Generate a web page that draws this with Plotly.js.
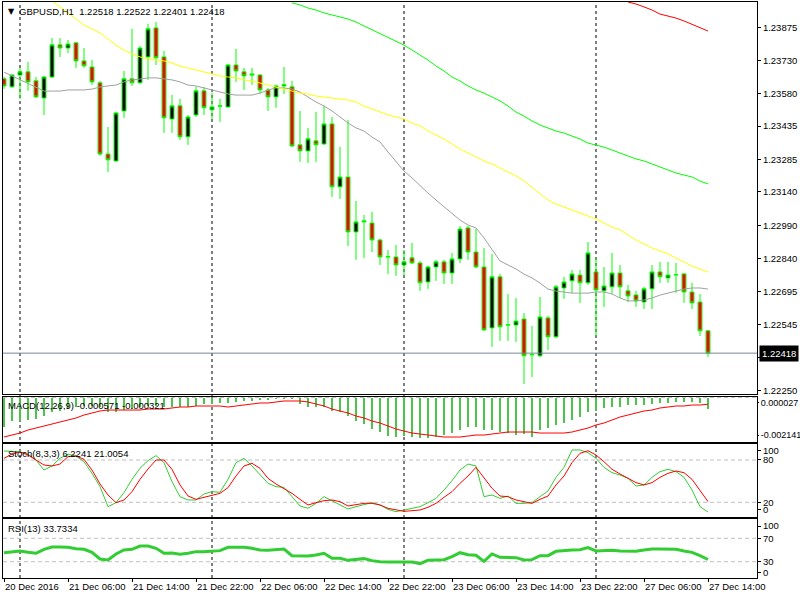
<!DOCTYPE html>
<html><head><meta charset="utf-8">
<script src="https://cdn.plot.ly/plotly-3.0.1.min.js"></script>
<style>html,body{margin:0;padding:0;background:#fff}#chart{width:800px;height:600px}</style>
</head><body><div id="chart"></div>
<script>
// ---------- data ----------
const symbol = 'GBPUSD,H1';
const timeLabels = ['20 Dec 2016','21 Dec 06:00','21 Dec 14:00','21 Dec 22:00','22 Dec 06:00','22 Dec 14:00','22 Dec 22:00','23 Dec 06:00','23 Dec 14:00','23 Dec 22:00','27 Dec 06:00','27 Dec 14:00'];
const timeTickIdx = [0,8,16,24,32,40,48,56,64,72,80,88];
const daySepIdx = [2,26,50,74];

const openP = [1.23647,1.23611,1.23664,1.23678,1.23638,1.23561,1.23655,1.23799,1.23785,1.23808,
1.23727,1.23700,1.23629,1.23310,1.23279,1.23503,1.23647,1.23629,1.23745,1.23875,
1.23745,1.23467,1.23526,1.23387,1.23485,1.23593,1.23508,1.23524,1.23521,1.23709,
1.23678,1.23669,1.23664,1.23597,1.23566,1.23615,1.23611,1.23351,1.23324,1.23369,
1.23355,1.23445,1.23163,1.23207,1.22961,1.23006,1.23001,1.22925,1.22851,1.22849,
1.22813,1.22845,1.22822,1.22737,1.22804,1.22827,1.22777,1.22840,1.22979,1.22871,
1.22804,1.22531,1.22760,1.22546,1.22544,1.22571,1.22410,1.22406,1.22576,1.22491,
1.22710,1.22742,1.22768,1.22733,1.22782,1.22697,1.22715,1.22777,1.22697,1.22679,
1.22647,1.22706,1.22782,1.22755,1.22768,1.22773,1.22692,1.22647,1.22518];
const highP = [1.23655,1.23669,1.23696,1.23723,1.23655,1.23660,1.23830,1.23830,1.23821,1.23812,
1.23785,1.23732,1.23638,1.23431,1.23499,1.23682,1.23871,1.23794,1.23893,1.23902,
1.23772,1.23575,1.23557,1.23485,1.23611,1.23611,1.23584,1.23557,1.23714,1.23781,
1.23696,1.23696,1.23669,1.23606,1.23620,1.23700,1.23638,1.23503,1.23427,1.23499,
1.23526,1.23476,1.23342,1.23463,1.23100,1.23037,1.23051,1.22930,1.22880,1.22903,
1.22880,1.22912,1.22831,1.22809,1.22836,1.22836,1.22867,1.22988,1.22988,1.22974,
1.22889,1.22862,1.22773,1.22683,1.22665,1.22598,1.22540,1.22670,1.22585,1.22724,
1.22760,1.22791,1.22791,1.22916,1.22845,1.22804,1.22867,1.22813,1.22724,1.22697,
1.22715,1.22813,1.22827,1.22827,1.22822,1.22777,1.22733,1.22683,1.22522];
const lowP = [1.23602,1.23606,1.23557,1.23593,1.23561,1.23485,1.23651,1.23745,1.23763,1.23696,
1.23696,1.23620,1.23302,1.23230,1.23275,1.23472,1.23615,1.23624,1.23642,1.23709,
1.23405,1.23405,1.23373,1.23351,1.23476,1.23485,1.23467,1.23454,1.23517,1.23633,
1.23597,1.23620,1.23579,1.23503,1.23517,1.23579,1.23342,1.23275,1.23270,1.23275,
1.23351,1.23118,1.23109,1.22898,1.22836,1.22845,1.22871,1.22813,1.22773,1.22764,
1.22768,1.22818,1.22697,1.22706,1.22742,1.22728,1.22728,1.22822,1.22836,1.22800,
1.22518,1.22446,1.22473,1.22473,1.22468,1.22280,1.22311,1.22401,1.22432,1.22486,
1.22661,1.22688,1.22643,1.22724,1.22495,1.22625,1.22683,1.22665,1.22647,1.22625,
1.22616,1.22616,1.22733,1.22733,1.22688,1.22643,1.22616,1.22495,1.22401];
const closeP = [1.23615,1.23664,1.23678,1.23633,1.23566,1.23655,1.23799,1.23785,1.23803,1.23727,
1.23705,1.23633,1.23310,1.23284,1.23494,1.23647,1.23629,1.23785,1.23871,1.23741,
1.23472,1.23526,1.23387,1.23476,1.23593,1.23517,1.23521,1.23526,1.23709,1.23682,
1.23660,1.23664,1.23597,1.23566,1.23615,1.23620,1.23346,1.23324,1.23378,1.23351,
1.23445,1.23163,1.23207,1.22961,1.23006,1.23010,1.22925,1.22849,1.22849,1.22813,
1.22827,1.22822,1.22733,1.22804,1.22827,1.22777,1.22840,1.22974,1.22871,1.22804,
1.22522,1.22760,1.22536,1.22544,1.22562,1.22406,1.22412,1.22580,1.22491,1.22715,
1.22737,1.22773,1.22733,1.22867,1.22701,1.22719,1.22777,1.22715,1.22674,1.22652,
1.22706,1.22782,1.22760,1.22768,1.22770,1.22692,1.22643,1.22518,1.22418];

const grayStart = 0;
const grayMA = [1.23677,1.23660,1.23642,1.23624,1.23606,1.23592,1.23592,1.23592,1.23597,1.23597,
1.23597,1.23601,1.23610,1.23615,1.23619,1.23633,1.23642,1.23646,1.23651,1.23651,
1.23646,1.23642,1.23633,1.23619,1.23615,1.23606,1.23597,1.23588,1.23579,1.23574,
1.23574,1.23574,1.23583,1.23597,1.23606,1.23606,1.23601,1.23588,1.23565,1.23543,
1.23525,1.23503,1.23476,1.23449,1.23427,1.23413,1.23386,1.23364,1.23319,1.23274,
1.23234,1.23203,1.23167,1.23135,1.23104,1.23073,1.23041,1.23014,1.22992,1.22979,
1.22934,1.22880,1.22831,1.22813,1.22795,1.22772,1.22755,1.22732,1.22705,1.22696,
1.22692,1.22687,1.22687,1.22687,1.22692,1.22692,1.22683,1.22665,1.22652,1.22652,
1.22656,1.22665,1.22678,1.22687,1.22696,1.22705,1.22710,1.22710,1.22705];
const yellowStart = 6;
const yellowMA = [1.23996,1.23969,1.23942,1.23915,1.23888,1.23870,1.23852,1.23825,1.23798,1.23776,
1.23758,1.23745,1.23736,1.23731,1.23727,1.23718,1.23704,1.23695,1.23686,1.23677,
1.23668,1.23660,1.23655,1.23651,1.23642,1.23637,1.23628,1.23619,1.23610,1.23601,
1.23592,1.23583,1.23579,1.23570,1.23565,1.23561,1.23556,1.23552,1.23543,1.23525,
1.23512,1.23498,1.23485,1.23476,1.23467,1.23449,1.23436,1.23413,1.23395,1.23377,
1.23355,1.23332,1.23315,1.23297,1.23279,1.23265,1.23247,1.23229,1.23212,1.23189,
1.23162,1.23135,1.23104,1.23086,1.23073,1.23059,1.23046,1.23032,1.23019,1.23001,
1.22983,1.22970,1.22947,1.22925,1.22907,1.22889,1.22876,1.22862,1.22844,1.22826,
1.22808,1.22795,1.22781];
const greenStart = 36;
const greenMA = [1.23987,1.23978,1.23964,1.23955,1.23942,1.23933,1.23924,1.23915,1.23901,1.23884,
1.23866,1.23852,1.23834,1.23816,1.23798,1.23776,1.23754,1.23731,1.23704,1.23682,
1.23655,1.23637,1.23615,1.23597,1.23583,1.23565,1.23548,1.23525,1.23498,1.23480,
1.23458,1.23440,1.23427,1.23413,1.23404,1.23391,1.23377,1.23359,1.23350,1.23341,
1.23328,1.23315,1.23301,1.23288,1.23279,1.23265,1.23252,1.23238,1.23225,1.23216,
1.23207,1.23189,1.23176];
const redStart = 78;
const redMA = [1.23991,1.23982,1.23969,1.23955,1.23937,1.23928,1.23919,1.23906,1.23892,1.23875,1.23861];

const bidPrice = 1.22418;
const priceTicks = [1.23875,1.23730,1.23580,1.23435,1.23285,1.23140,1.22990,1.22840,1.22695,1.22545,1.22400,1.22250];

const macdHist = [-0.001419,-0.001130,-0.001130,-0.001082,-0.001033,-0.000889,-0.000696,-0.000648,-0.000552,-0.000455,
-0.000407,-0.000407,-0.000455,-0.000696,-0.000696,-0.000600,-0.000552,-0.000455,-0.000407,-0.000407,
-0.000455,-0.000455,-0.000455,-0.000455,-0.000407,-0.000310,-0.000310,-0.000262,-0.000262,-0.000214,
-0.000166,-0.000166,-0.000118,-0.000118,-0.000069,-0.000069,-0.000069,-0.000310,-0.000455,-0.000455,
-0.000455,-0.000648,-0.000696,-0.000889,-0.001130,-0.001275,-0.001516,-0.001660,-0.001853,-0.001901,
-0.001853,-0.001901,-0.001950,-0.001950,-0.001901,-0.001805,-0.001709,-0.001564,-0.001419,-0.001419,
-0.001564,-0.001564,-0.001660,-0.001709,-0.001805,-0.001757,-0.001901,-0.001564,-0.001467,-0.001323,
-0.001226,-0.001082,-0.000937,-0.000696,-0.000648,-0.000503,-0.000455,-0.000455,-0.000359,-0.000359,
-0.000359,-0.000310,-0.000262,-0.000262,-0.000214,-0.000214,-0.000214,-0.000262,-0.000571];
const macdSignal = [-0.001901,-0.001805,-0.001709,-0.001564,-0.001467,-0.001371,-0.001275,-0.001178,-0.001082,-0.000985,
-0.000841,-0.000744,-0.000648,-0.000600,-0.000600,-0.000600,-0.000600,-0.000600,-0.000552,-0.000552,
-0.000552,-0.000503,-0.000455,-0.000455,-0.000407,-0.000407,-0.000407,-0.000407,-0.000455,-0.000407,
-0.000359,-0.000310,-0.000262,-0.000262,-0.000214,-0.000166,-0.000166,-0.000166,-0.000214,-0.000310,
-0.000407,-0.000552,-0.000648,-0.000744,-0.000889,-0.000985,-0.001130,-0.001226,-0.001371,-0.001516,
-0.001612,-0.001709,-0.001757,-0.001805,-0.001853,-0.001901,-0.001901,-0.001901,-0.001853,-0.001805,
-0.001805,-0.001757,-0.001709,-0.001660,-0.001660,-0.001660,-0.001660,-0.001709,-0.001709,-0.001709,
-0.001709,-0.001660,-0.001564,-0.001467,-0.001323,-0.001226,-0.001082,-0.000937,-0.000841,-0.000744,
-0.000648,-0.000600,-0.000503,-0.000455,-0.000407,-0.000407,-0.000359,-0.000359,-0.000321];
const macdTickVals = [-0.000262,-0.001805];
const macdTickText = ['0.000027','-0.002141'];

const stochK = [92.8,92.3,91.8,88.0,80.0,65.8,71.5,82.4,88.0,85.7,
77.6,61.1,42.2,13.8,19.5,33.7,52.6,68.2,79.1,86.2,
76.2,49.3,28.0,23.3,23.3,31.8,35.1,34.2,52.6,76.2,
82.4,71.5,58.7,46.9,42.2,41.2,28.0,14.8,11.5,18.5,
28.0,22.3,17.1,10.5,13.8,16.2,19.5,16.2,10.0,6.7,
9.1,10.5,13.8,19.5,25.6,37.5,50.7,65.8,74.3,71.5,
28.0,30.4,25.6,28.9,18.5,18.5,19.5,28.0,36.0,55.4,
69.6,94.2,94.2,90.4,82.4,69.6,62.0,58.7,54.0,43.1,
44.6,55.4,63.5,66.8,63.5,55.4,37.5,13.8,6.2241];
const stochD = [82.4,88.5,91.4,87.1,80.0,72.9,71.5,74.3,84.7,85.7,
81.0,65.8,46.0,30.4,19.5,23.3,35.1,52.6,67.2,80.0,
80.0,66.8,44.6,29.0,24.2,27.1,30.4,32.7,40.8,57.3,
71.5,75.3,68.2,54.0,46.0,39.8,32.7,24.2,16.2,19.5,
22.3,23.3,20.9,14.8,16.2,18.5,18.5,16.2,11.5,9.1,
7.2,8.1,9.1,12.9,18.5,27.1,35.1,46.9,57.3,69.6,
55.4,39.8,28.9,28.0,23.3,20.9,18.5,24.2,28.9,44.6,
57.3,76.2,89.5,93.2,87.1,77.6,66.8,60.2,54.0,47.9,
44.6,47.9,55.4,61.1,64.4,62.0,52.6,37.5,21.0054];
const stochLevels = [80,20];
const stochTickVals = [92.8,80,20,9.1];
const stochTickText = ['100','80','20','0'];

const rsi = [45.4,47.2,48.3,46.0,44.3,51.1,55.1,55.1,54.6,52.3,
51.1,46.0,34.6,32.9,43.2,50.0,51.1,56.8,56.8,52.8,
44.3,44.9,42.6,44.3,47.2,47.2,47.7,48.9,54.6,54.6,
54.6,52.8,50.0,49.4,50.6,51.7,40.3,40.3,39.7,41.5,
44.3,35.8,35.8,32.3,34.0,35.2,31.8,30.0,29.5,28.9,
29.5,29.5,26.6,32.3,32.9,33.5,38.6,45.4,42.0,40.9,
30.6,43.2,37.5,36.9,36.9,32.9,33.5,40.3,40.3,47.7,
49.4,50.0,50.6,54.0,48.3,49.4,49.4,48.3,47.7,47.7,
50.0,51.7,51.7,51.7,51.1,48.3,46.0,40.3,33.7334];
const rsiLevels = [70,30];
const rsiTickVals = [91,70,30,11.2];
const rsiTickText = ['100','70','30','0'];

// ---------- chart ----------
const FONT = '"Liberation Sans", Arial, sans-serif';
const TICK = {family:FONT, size:9.5, color:'#000'};
const LABEL_SIZE = 9.5;
const idx = openP.map((_, i) => i);
const W = 800, H = 600, ML = 3, MR = 43, MT = 2, MB = 22;
const PW = W - ML - MR, PH = H - MT - MB;
const px = x => (x - ML) / PW;
const py = y => (H - MB - y) / PH;
const last = a => a[a.length - 1];
const rangeOf = (start, arr) => arr.map((_, k) => k + start);

const traces = [
  {type:'candlestick', x: idx, open: openP, high: highP, low: lowP, close: closeP,
   xaxis:'x', yaxis:'y',
   increasing:{line:{color:'#00ff00', width:1}, fillcolor:'#000000'},
   decreasing:{line:{color:'#00ff00', width:1}, fillcolor:'#ff0000'},
   whiskerwidth:0, hoverinfo:'skip'},
  {type:'scatter', mode:'lines', x: rangeOf(grayStart, grayMA), y: grayMA, line:{color:'#a0a0a0', width:1}, xaxis:'x', yaxis:'y'},
  {type:'scatter', mode:'lines', x: rangeOf(yellowStart, yellowMA), y: yellowMA, line:{color:'#ffff00', width:1}, xaxis:'x', yaxis:'y'},
  {type:'scatter', mode:'lines', x: rangeOf(greenStart, greenMA), y: greenMA, line:{color:'#00ff00', width:1}, xaxis:'x', yaxis:'y'},
  {type:'scatter', mode:'lines', x: rangeOf(redStart, redMA), y: redMA, line:{color:'#ff0000', width:1}, xaxis:'x', yaxis:'y'},
  {type:'bar', x: idx, y: macdHist, width:0.18, marker:{color:'#4cc44c', line:{width:0}}, xaxis:'x2', yaxis:'y2'},
  {type:'scatter', mode:'lines', x: idx, y: macdSignal, line:{color:'#ff0000', width:1}, xaxis:'x2', yaxis:'y2'},
  {type:'scatter', mode:'lines', x: idx, y: stochK, line:{color:'#32cd32', width:1}, xaxis:'x3', yaxis:'y3'},
  {type:'scatter', mode:'lines', x: idx, y: stochD, line:{color:'#ff0000', width:1}, xaxis:'x3', yaxis:'y3'},
  {type:'scatter', mode:'lines', x: idx, y: rsi, line:{color:'#32cd32', width:3}, xaxis:'x4', yaxis:'y4'}
];

const xr = [-0.125, 94.125];
const baseX = {range: xr, showgrid:false, zeroline:false, showline:true, mirror:true,
  linecolor:'#000', linewidth:1, showticklabels:false, ticks:'', fixedrange:true};
const baseY = {showgrid:false, zeroline:false, showline:true, mirror:true, linecolor:'#000', linewidth:1,
  side:'right', ticks:'outside', ticklen:3, tickcolor:'#000', tickmode:'array', fixedrange:true,
  tickfont:TICK};

const shapes = [];
daySepIdx.forEach(i => shapes.push({type:'line', xref:'x', yref:'paper', x0:i, x1:i, y0:0, y1:1,
  layer:'below', line:{color:'#000', width:1, dash:'3px,3px'}}));
shapes.push({type:'line', xref:'paper', yref:'y', x0:0, x1:1, y0:bidPrice, y1:bidPrice, line:{color:'#778899', width:1}});
shapes.push({type:'line', xref:'x2 domain', yref:'y2', x0:0, x1:1, y0:0, y1:0, layer:'below', line:{color:'#c0c0c0', width:1, dash:'4px,3px'}});
stochLevels.forEach(v => shapes.push({type:'line', xref:'x3 domain', yref:'y3', x0:0, x1:1, y0:v, y1:v, layer:'below', line:{color:'#c0c0c0', width:1, dash:'4px,3px'}}));
rsiLevels.forEach(v => shapes.push({type:'line', xref:'x4 domain', yref:'y4', x0:0, x1:1, y0:v, y1:v, layer:'below', line:{color:'#c0c0c0', width:1, dash:'4px,3px'}}));

const lbl = (text, x, y, size) => ({xref:'paper', yref:'paper', x: px(x), y: py(y),
  xanchor:'left', yanchor:'middle', showarrow:false, text: text,
  font:{family:FONT, size:size, color:'#000'}});

const NB = '\u00a0';
const annotations = [
  Object.assign(lbl('\u25BC', 6, 11, 8), {font:{family:'DejaVu Sans', size:8, color:'#000'}}),
  lbl(symbol + NB + NB + [last(openP), last(highP), last(lowP), last(closeP)].map(v => v.toFixed(5)).join(NB), 17, 11, LABEL_SIZE),
  lbl('MACD(12,26,9)' + NB + last(macdHist).toFixed(6) + NB + last(macdSignal).toFixed(6), 6, 405, LABEL_SIZE),
  lbl('Stoch(8,3,3)' + NB + last(stochK).toFixed(4) + NB + last(stochD).toFixed(4), 6, 453, LABEL_SIZE),
  lbl('RSI(13)' + NB + last(rsi).toFixed(4), 6, 528, LABEL_SIZE),
  {xref:'paper', yref:'y', x:1, y: bidPrice, xanchor:'left', yanchor:'middle', xshift:2, showarrow:false,
   text: bidPrice.toFixed(5), bgcolor:'#000', borderpad:2, font:{family:FONT, size:9.5, color:'#fff'}}
];

const layout = {
  width:W, height:H, margin:{l:ML, r:MR, t:MT, b:MB, pad:0},
  paper_bgcolor:'#fff', plot_bgcolor:'#fff', showlegend:false, bargap:0,
  font:{family:FONT, size:10, color:'#000'},
  xaxis: Object.assign({}, baseX, {anchor:'y', rangeslider:{visible:false}}),
  xaxis2: Object.assign({}, baseX, {anchor:'y2', matches:'x'}),
  xaxis3: Object.assign({}, baseX, {anchor:'y3', matches:'x'}),
  xaxis4: Object.assign({}, baseX, {anchor:'y4', matches:'x', showticklabels:true, tickmode:'array',
    tickvals: timeTickIdx, ticktext: timeLabels, ticks:'outside', ticklen:3, tickcolor:'#000',
    tickangle:0, ticklabelposition:'outside right', tickfont:TICK}),
  yaxis: Object.assign({}, baseY, {domain:[0.31944, 1], range:[1.22235, 1.23991],
    tickvals: priceTicks, ticktext: priceTicks.map(v => v.toFixed(5))}),
  yaxis2: Object.assign({}, baseY, {domain:[0.23611, 0.31424], range:[-0.002141, 0.000027],
    tickvals: macdTickVals, ticktext: macdTickText, ticklen:1, tickfont:{family:FONT, size:9, color:'#000'}}),
  yaxis3: Object.assign({}, baseY, {domain:[0.10590, 0.23264], range:[-0.85, 102.7],
    tickvals: stochTickVals, ticktext: stochTickText}),
  yaxis4: Object.assign({}, baseY, {domain:[0, 0.10243], range:[2.1, 103],
    tickvals: rsiTickVals, ticktext: rsiTickText}),
  shapes: shapes,
  annotations: annotations
};

Plotly.newPlot('chart', traces, layout, {staticPlot:true, displayModeBar:false});
</script>
</body></html>
